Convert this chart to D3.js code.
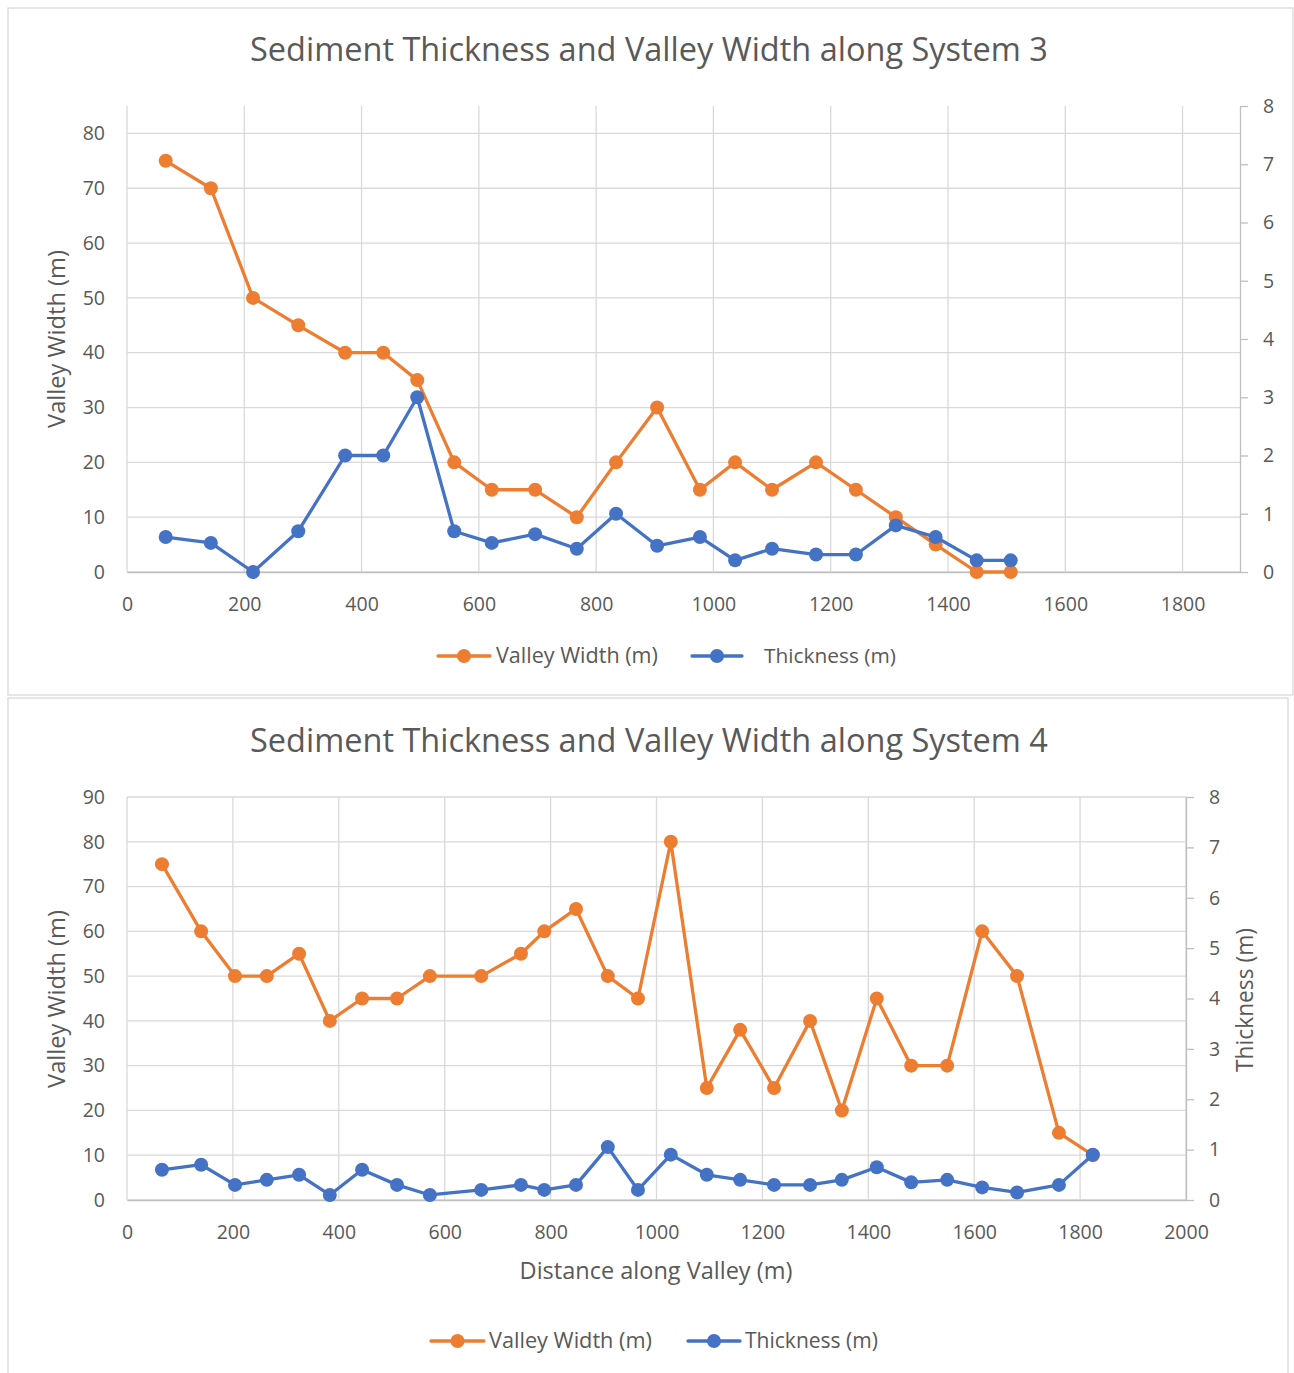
<!DOCTYPE html>
<html><head><meta charset="utf-8">
<script src="https://cdn.jsdelivr.net/npm/d3@7"></script>
<style>
body{margin:0;background:#fff}
svg text{font-family:"Open Sans",sans-serif;fill:#595959}
</style>
</head><body>
<svg id="c" width="1294" height="1373"></svg>
<script>
// ---- System 3 data ----
const sys3Distance  = [66,143,215,292,372,437,495,558,622,696,767,834,904,977,1037,1100,1175,1243,1311,1379,1449,1507];
const sys3Width     = [75,70,50,45,40,40,35,20,15,15,10,20,30,15,20,15,20,15,10,5,0,0];
const sys3Thickness = [0.6,0.5,0,0.7,2.0,2.0,3.0,0.7,0.5,0.65,0.4,1.0,0.45,0.6,0.2,0.4,0.3,0.3,0.8,0.6,0.2,0.2];
// ---- System 4 data ----
const sys4Distance  = [66,140,204,264,325,383,444,510,572,669,744,788,848,908,965,1027,1095,1158,1222,1290,1350,1416,1481,1549,1615,1681,1760,1824];
const sys4Width     = [75,60,50,50,55,40,45,45,50,50,55,60,65,50,45,80,25,38,25,40,20,45,30,30,60,50,15,10];
const sys4Thickness = [0.6,0.7,0.3,0.4,0.5,0.1,0.6,0.3,0.1,0.2,0.3,0.2,0.3,1.05,0.2,0.9,0.5,0.4,0.3,0.3,0.4,0.65,0.35,0.4,0.25,0.15,0.3,0.9];
// ---- tick labels ----
const xTicks3 = [0,200,400,600,800,1000,1200,1400,1600,1800];
const xTicks4 = [0,200,400,600,800,1000,1200,1400,1600,1800,2000];
const widthTicks3 = [0,10,20,30,40,50,60,70,80];
const widthTicks4 = [0,10,20,30,40,50,60,70,80,90];
const thickTicks = [0,1,2,3,4,5,6,7,8];
const title3 = "Sediment Thickness and Valley Width along System 3";
const title4 = "Sediment Thickness and Valley Width along System 4";
const seriesNames = ["Valley Width (m)", "Thickness (m)"];

const ORANGE = "#ED7D31", BLUE = "#4472C4", GRID = "#d9d9d9", AXIS = "#bfbfbf";
const TICK_FS = 19.5;
const svg = d3.select("#c");

function fitText(sel, target){
  const n = sel.node();
  const fs = parseFloat(sel.attr("font-size"));
  const w = n.getComputedTextLength();
  if (w > 0) sel.attr("font-size", (fs * target / w).toFixed(2));
  return sel;
}

function drawChart(c){
  const g = svg.append("g");
  g.append("rect").attr("x", c.frame[0]).attr("y", c.frame[1]).attr("width", c.frame[2]).attr("height", c.frame[3])
    .attr("fill", "#fff").attr("stroke", GRID).attr("stroke-width", 1.3);

  const x = d3.scaleLinear().domain(c.xDomain).range([c.left, c.right]);
  const yL = d3.scaleLinear().domain(c.yLDomain).range([c.bottom, c.top]);
  const yR = d3.scaleLinear().domain([0, 8]).range([c.bottom, c.top]);

  // gridlines
  g.append("g").selectAll("line.h").data(c.yLTicks).join("line")
    .attr("x1", c.left).attr("x2", c.right).attr("y1", d => yL(d)).attr("y2", d => yL(d))
    .attr("stroke", GRID).attr("stroke-width", 1.3);
  g.append("g").selectAll("line.v").data(c.xTicks).join("line")
    .attr("x1", d => x(d)).attr("x2", d => x(d)).attr("y1", c.top).attr("y2", c.bottom)
    .attr("stroke", GRID).attr("stroke-width", 1.3);

  // bottom axis
  const xa = g.append("g").attr("transform", `translate(0,${c.bottom})`)
    .call(d3.axisBottom(x).tickValues(c.xTicks).tickSize(0).tickPadding(25).tickFormat(d3.format("d")));
  xa.select(".domain").attr("stroke", AXIS).attr("stroke-width", 1.3);
  xa.selectAll("text").attr("font-size", TICK_FS).attr("fill", "#595959").attr("font-family", "Open Sans");

  // left axis
  const la = g.append("g").attr("transform", `translate(${c.left},0)`)
    .call(d3.axisLeft(yL).tickValues(c.yLTicks).tickSize(0).tickPadding(22).tickFormat(d3.format("d")));
  la.select(".domain").remove();
  la.selectAll("text").attr("font-size", TICK_FS).attr("fill", "#595959").attr("font-family", "Open Sans");

  // right axis
  const ra = g.append("g").attr("transform", `translate(${c.right},0)`)
    .call(d3.axisRight(yR).tickValues(thickTicks).tickSize(8).tickPadding(15).tickSizeOuter(0).tickFormat(d3.format("d")));
  ra.select(".domain").attr("stroke", AXIS).attr("stroke-width", 1.3);
  ra.selectAll("line").attr("stroke", AXIS).attr("stroke-width", 1.3);
  ra.selectAll("text").attr("font-size", TICK_FS).attr("fill", "#595959").attr("font-family", "Open Sans");

  // series
  const widthPts = c.dist.map((d, i) => [x(d), yL(c.width[i])]);
  const thickPts = c.dist.map((d, i) => [x(d), yR(c.thick[i])]);
  const line = d3.line();
  [[widthPts, ORANGE], [thickPts, BLUE]].forEach(([pts, col]) => {
    g.append("path").attr("d", line(pts)).attr("fill", "none").attr("stroke", col)
      .attr("stroke-width", 3.3).attr("stroke-linejoin", "round").attr("stroke-linecap", "round");
    g.append("g").selectAll("circle").data(pts).join("circle")
      .attr("cx", d => d[0]).attr("cy", d => d[1]).attr("r", 7).attr("fill", col);
  });

  // title
  fitText(g.append("text").attr("x", c.titleX).attr("y", c.titleY).attr("text-anchor", "middle")
    .attr("font-size", 28).text(c.title), 798);

  // axis titles
  fitText(g.append("text").attr("transform", `translate(${c.yTitleX},${c.yTitleY}) rotate(-90)`)
    .attr("text-anchor", "middle").attr("font-size", 21).text("Valley Width (m)"), 178);
  if (c.rTitle) {
    fitText(g.append("text").attr("transform", `translate(${c.rTitle[0]},${c.rTitle[1]}) rotate(-90)`)
      .attr("text-anchor", "middle").attr("font-size", 21).text("Thickness (m)"), 144);
  }
  if (c.xTitle) {
    fitText(g.append("text").attr("x", c.xTitle[0]).attr("y", c.xTitle[1]).attr("text-anchor", "middle")
      .attr("font-size", 21).text("Distance along Valley (m)"), 273);
  }

  // legend
  const lg = c.legend;
  [[ORANGE, lg.o], [BLUE, lg.b]].forEach(([col, p], i) => {
    g.append("line").attr("x1", p[0]).attr("x2", p[1]).attr("y1", lg.y).attr("y2", lg.y)
      .attr("stroke", col).attr("stroke-width", 3.3).attr("stroke-linecap", "round");
    g.append("circle").attr("cx", (p[0] + p[1]) / 2).attr("cy", lg.y).attr("r", 7).attr("fill", col);
    fitText(g.append("text").attr("x", p[2]).attr("y", lg.y + 7).attr("font-size", 19).text(seriesNames[i]), p[3]);
  });
}

drawChart({
  frame: [8, 8, 1285, 687],
  left: 127, right: 1240, top: 106, bottom: 572,
  xDomain: [0, 1898], yLDomain: [0, 85],
  xTicks: xTicks3, yLTicks: widthTicks3,
  dist: sys3Distance, width: sys3Width, thick: sys3Thickness,
  title: title3, titleX: 649, titleY: 61,
  yTitleX: 65, yTitleY: 339,
  legend: { y: 656, o: [438, 490, 496, 162], b: [692, 742, 764, 132] }
});

drawChart({
  frame: [8, 698, 1280, 700],
  left: 127, right: 1186, top: 797, bottom: 1200,
  xDomain: [0, 2000], yLDomain: [0, 90],
  xTicks: xTicks4, yLTicks: widthTicks4,
  dist: sys4Distance, width: sys4Width, thick: sys4Thickness,
  title: title4, titleX: 649, titleY: 752,
  yTitleX: 65, yTitleY: 999,
  rTitle: [1253, 1000],
  xTitle: [656, 1279],
  legend: { y: 1341, o: [431, 484, 489, 163], b: [688, 740, 745, 133] }
});
</script>
</body></html>
